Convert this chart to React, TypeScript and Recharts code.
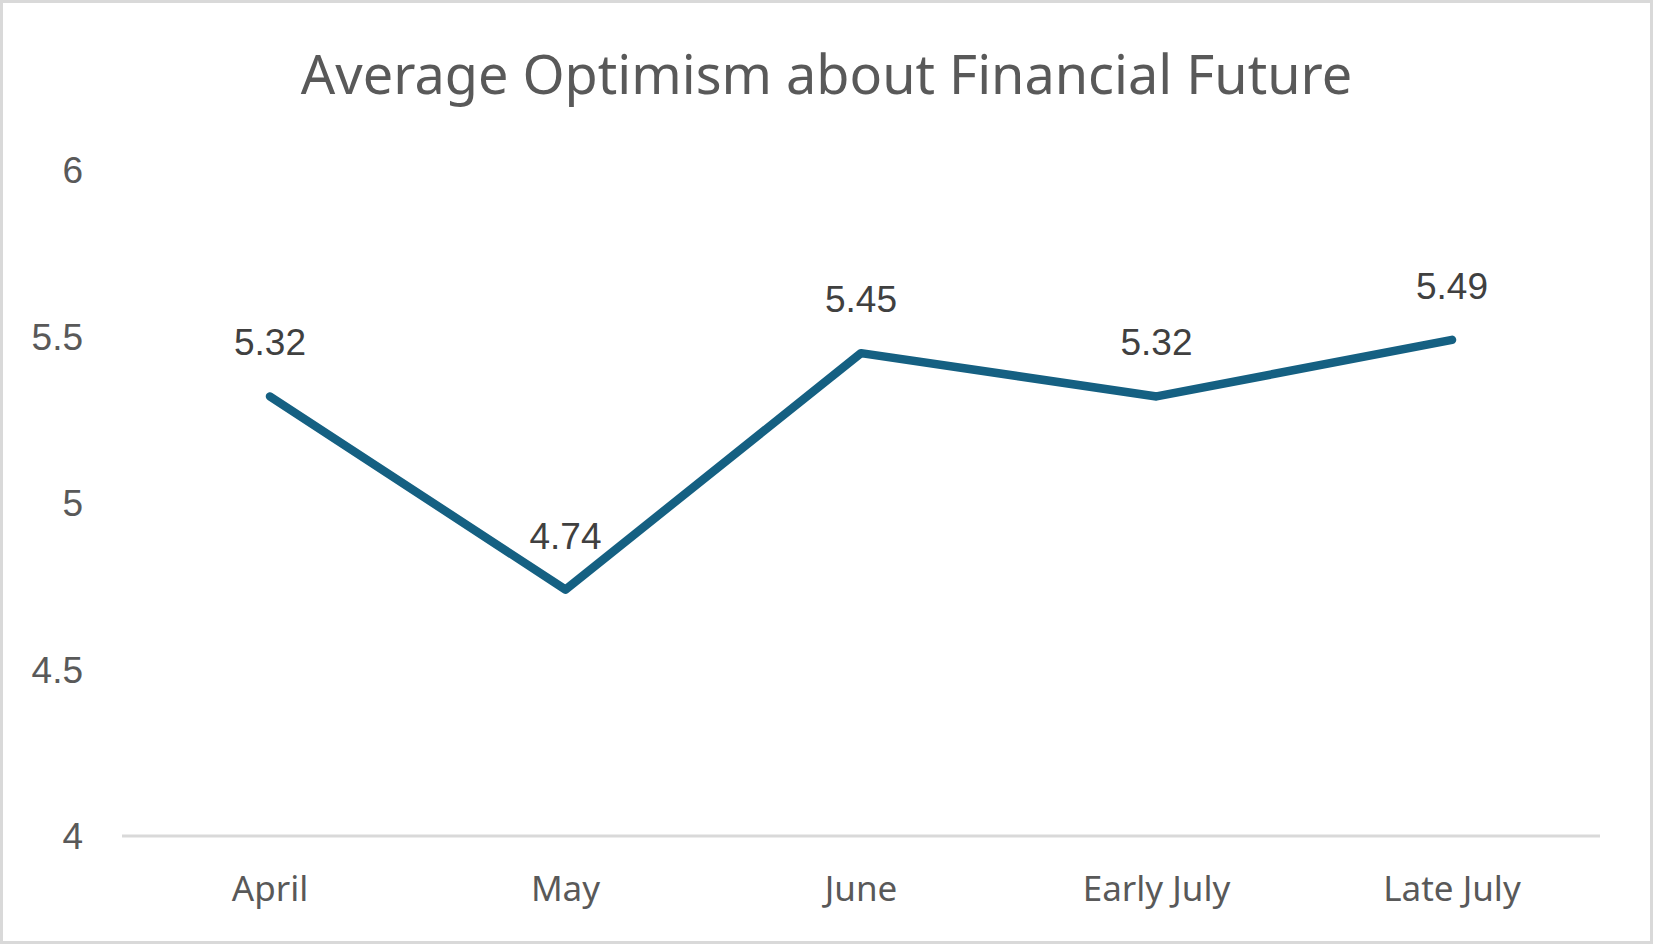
import { LineChart, Line, XAxis, YAxis, LabelList } from "recharts";

const periods = ["April", "May", "June", "Early July", "Late July"];
const optimism = [5.32, 4.74, 5.45, 5.32, 5.49];
const yTicks = [4, 4.5, 5, 5.5, 6];

const data = periods.map((period, i) => ({ period, optimism: optimism[i] }));

export default function App() {
  return (
    <div
      style={{
        position: "absolute",
        top: 0,
        left: 0,
        width: 1653,
        height: 944,
        boxSizing: "border-box",
        border: "3px solid #d9d9d9",
        background: "#fff",
        fontFamily: "'Noto Sans', sans-serif",
      }}
    >
      <div
        style={{
          position: "absolute",
          top: 35,
          left: 0,
          width: 1647,
          textAlign: "center",
          fontSize: 54,
          color: "#595959",
          lineHeight: "70px",
        }}
      >
        Average Optimism about Financial Future
      </div>
      <div style={{ position: "absolute", top: -3, left: -3 }}>
        <LineChart
          width={1653}
          height={944}
          data={data}
          margin={{ top: 170, right: 53, bottom: 78, left: 0 }}
        >
          <XAxis
            dataKey="period"
            padding={{ left: 148, right: 148 }}
            axisLine={{ stroke: "#d9d9d9", strokeWidth: 3 }}
            tickLine={false}
            tickSize={0}
            tickMargin={40}
            tick={{ fill: "#595959", fontSize: 35, fontFamily: "'Noto Sans', sans-serif" }}
            interval={0}
          />
          <YAxis
            width={122}
            domain={[4, 6]}
            ticks={yTicks}
            axisLine={false}
            tickLine={false}
            tickSize={0}
            tickMargin={39}
            tick={{ fill: "#595959", fontSize: 37, fontFamily: "'Liberation Sans', sans-serif" }}
          />
          <Line
            type="linear"
            dataKey="optimism"
            stroke="#156082"
            strokeWidth={8.5}
            strokeLinecap="round"
            strokeLinejoin="round"
            dot={false}
            isAnimationActive={false}
          >
            <LabelList
              dataKey="optimism"
              position="top"
              offset={41}
              fill="#404040"
              fontSize={37}
              fontFamily="'Liberation Sans', sans-serif"
            />
          </Line>
        </LineChart>
      </div>
    </div>
  );
}
